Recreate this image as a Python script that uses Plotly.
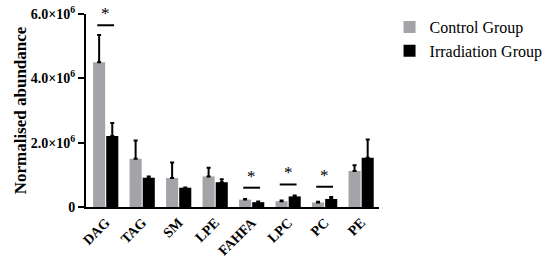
import plotly.graph_objects as go

# Lipid classes and abundances
categories = ['DAG', 'TAG', 'SM', 'LPE', 'FAHFA', 'LPC', 'PC', 'PE']

control_mean = [4.50e6, 1.50e6, 0.90e6, 0.95e6, 0.23e6, 0.18e6, 0.14e6, 1.12e6]
control_err = [0.85e6, 0.57e6, 0.48e6, 0.27e6, 0.02e6, 0.02e6, 0.02e6, 0.18e6]

irradiation_mean = [2.21e6, 0.91e6, 0.60e6, 0.77e6, 0.15e6, 0.33e6, 0.25e6, 1.53e6]
irradiation_err = [0.40e6, 0.04e6, 0.01e6, 0.09e6, 0.02e6, 0.03e6, 0.06e6, 0.57e6]

# significance markers: category and bracket height
sig_categories = ['DAG', 'FAHFA', 'LPC', 'PC']
sig_heights = [5.65e6, 0.60e6, 0.70e6, 0.63e6]

y_tickvals = [0, 2e6, 4e6, 6e6]
y_ticktext = ['0', '2.0×10<sup>6</sup>', '4.0×10<sup>6</sup>', '6.0×10<sup>6</sup>']

FONT = 'Liberation Serif, Times New Roman, serif'

fig = go.Figure()

fig.add_trace(go.Bar(
    x=categories,
    y=control_mean,
    name='Control Group',
    marker=dict(color='#a3a3a8', line=dict(width=0)),
    error_y=dict(type='data', array=control_err, symmetric=False,
                 arrayminus=[0] * len(control_err),
                 color='black', thickness=2, width=2),
))

fig.add_trace(go.Bar(
    x=categories,
    y=irradiation_mean,
    name='Irradiation Group',
    marker=dict(color='black', line=dict(width=0)),
    error_y=dict(type='data', array=irradiation_err, symmetric=False,
                 arrayminus=[0] * len(irradiation_err),
                 color='black', thickness=2, width=2),
))

# significance brackets and stars
for cat, h in zip(sig_categories, sig_heights):
    i = categories.index(cat)
    fig.add_shape(type='line', xref='x', yref='y',
                  x0=i - 0.23, x1=i + 0.23, y0=h, y1=h,
                  line=dict(color='black', width=2))
    fig.add_annotation(x=i, y=h, xref='x', yref='y', text='*',
                       showarrow=False, yanchor='bottom', yshift=0,
                       font=dict(family=FONT, size=17, color='black'))

fig.update_layout(
    width=550,
    height=265,
    margin=dict(l=86, r=171, t=14, b=58, autoexpand=False),
    plot_bgcolor='white',
    paper_bgcolor='white',
    font=dict(family=FONT, color='black'),
    barmode='group',
    bargap=0.28,
    bargroupgap=0.08,
    showlegend=True,
    legend=dict(
        x=1.036, y=1.02, xanchor='left', yanchor='top',
        font=dict(family=FONT, size=16, color='black'),
        bgcolor='rgba(0,0,0,0)',
        tracegroupgap=4,
    ),
    xaxis=dict(
        range=[-0.54, 7.49],
        automargin=False,
        showline=True, linecolor='black', linewidth=2,
        ticks='', showgrid=False, zeroline=False,
        tickangle=-45,
        tickfont=dict(family=FONT, size=14, color='black', weight='bold'),
    ),
    yaxis=dict(
        range=[0, 6e6],
        automargin=False,
        showline=True, linecolor='black', linewidth=2,
        ticks='outside', ticklen=6, tickwidth=2, tickcolor='black',
        tickvals=y_tickvals, ticktext=y_ticktext,
        showgrid=False, zeroline=False,
        tickfont=dict(family=FONT, size=14, color='black', weight='bold'),
        title=dict(text='Normalised abundance', standoff=0,
                   font=dict(family=FONT, size=17, color='black', weight='bold')),
    ),
)

# drop the default page margin so the figure sits at the window's corner
fig.write_html('out.html', config={'displayModeBar': False},
               post_script="document.body.style.margin='0';")
